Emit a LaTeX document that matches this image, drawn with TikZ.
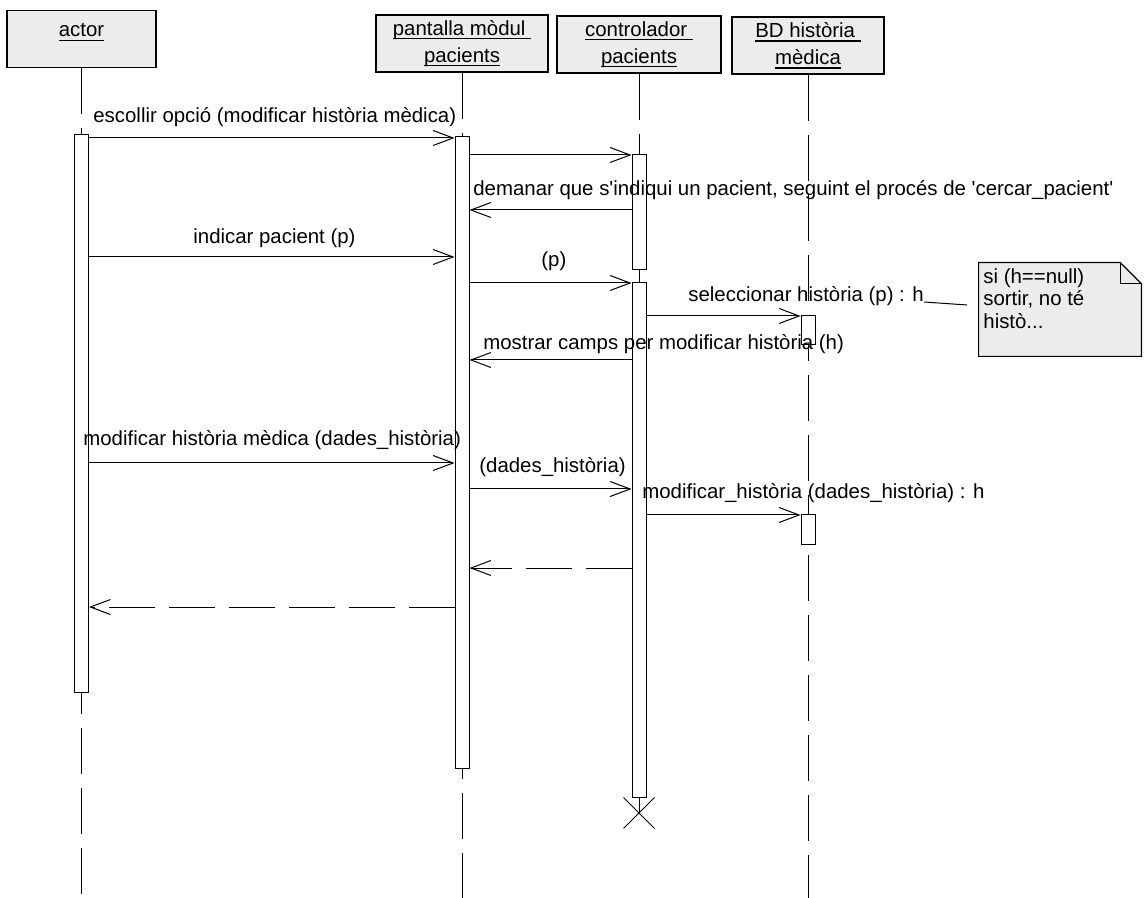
\documentclass[tikz,border=0pt]{standalone}
\usepackage{fontspec}
\setmainfont{Liberation Sans}
\usetikzlibrary{arrows.meta,shapes.misc}
\newsavebox\ulbox
\newcommand\ulx[1]{\sbox\ulbox{#1}\rlap{\rule[-2pt]{\wd\ulbox}{0.55pt}}\usebox\ulbox}
\begin{document}
\begin{tikzpicture}[x=0.5pt,y=-0.5pt,
  font=\fontsize{10.2}{13.5}\selectfont,
  obj/.style={draw, line width=0.8pt, fill=gray!15, minimum height=28.5pt, align=center, inner sep=0pt},
  act/.style={draw, fill=white, line width=0.5pt, minimum width=7pt, inner sep=0pt},
  life/.style={line width=0.5pt, dash pattern=on 23pt off 7pt},
  msg/.style={line width=0.5pt, -{Straight Barb[length=10pt,width=7.5pt]}},
  ret/.style={msg, dash pattern=on 23pt off 7pt},
  lbl/.style={anchor=base west, inner sep=0pt}]
\useasboundingbox (0,0) rectangle (1146,898);

% objects
\node[obj, minimum width=74.5pt] (bA) at (81.5,39) {\ulx{actor}\\[-7pt]\phantom{pacients}};
\node[obj, minimum width=86pt] (bP) at (462,43.5) {\ulx{pantalla mòdul }\\\ulx{pacients}};
\node[obj, minimum width=82pt] (bC) at (639,44.5) {\ulx{controlador }\\\ulx{pacients}};
\node[obj, minimum width=76pt] (bB) at (808,45.5) {\ulx{BD història }\\\ulx{mèdica}};

% lifeline ends
\coordinate (eA) at (81.5,898);
\coordinate (eP) at (462,898);
\coordinate (eB) at (808,898);
\node[draw, cross out, line width=0.5pt, minimum size=15pt, inner sep=0pt] (xC) at (639,813) {};

\draw[life] (bA.south) -- (eA);
\draw[life] (bP.south) -- (eP);
\draw[life] (bC.south) -- (xC.center);
\draw[life] (bB.south) -- (eB);

% activations
\node[act, minimum height=278.5pt] (aA) at (81.5,413.5) {};
\node[act, minimum height=315.5pt] (aP) at (462,452.5) {};
\node[act, minimum height=57.5pt] (aC1) at (639,212.5) {};
\node[act, minimum height=257pt] (aC2) at (639,540) {};
\node[act, minimum height=14.5pt] (aB1) at (808,330.5) {};
\node[act, minimum height=14.5pt] (aB2) at (808,529.5) {};

% messages
\draw[msg] (aA.east |- 0,138) -- (aP.west |- 0,138);
\node[lbl] (l1) at (93,123) {escollir opció (modificar història mèdica)};

\draw[msg] (aP.east |- 0,155) -- (aC1.west |- 0,155);

\draw[msg] (aC1.west |- 0,210) -- (aP.east |- 0,210);
\node[lbl] (l3) at (473,196) {demanar que s\textquotesingle indiqui un pacient, seguint el procés de \textquotesingle cercar\_pacient\textquotesingle};

\draw[msg] (aA.east |- 0,257) -- (aP.west |- 0,257);
\node[lbl] (l4) at (193,244) {indicar pacient (p)};

\draw[msg] (aP.east |- 0,283) -- (aC2.west |- 0,283);
\node[lbl] (l5) at (541,267) {(p)};

\draw[msg] (aC2.east |- 0,316) -- (aB1.west |- 0,316);
\node[lbl] (l6) at (688,302) {seleccionar història (p) : h};

\draw[msg] (aC2.west |- 0,360) -- (aP.east |- 0,360);
\node[lbl] (l7) at (483,350) {mostrar camps per modificar història (h)};

\draw[msg] (aA.east |- 0,463) -- (aP.west |- 0,463);
\node[lbl] (l8) at (83,446) {modificar història mèdica (dades\_història)};

\draw[msg] (aP.east |- 0,489) -- (aC2.west |- 0,489);
\node[lbl] (l9) at (479,473) {(dades\_història)};

\draw[msg] (aC2.east |- 0,515) -- (aB2.west |- 0,515);
\node[lbl] (l10) at (642,499) {modificar\_història (dades\_història) : h};

\draw[ret] (aC2.west |- 0,568) -- (aP.east |- 0,568);
\draw[ret] (aP.west |- 0,607) -- (aA.east |- 0,607);

% note
\node[minimum width=81pt, minimum height=46.5pt, inner sep=0pt] (note) at (1060,309.5) {};
\filldraw[fill=gray!15, line width=0.6pt]
  (note.north west) -- ([xshift=-10.5pt]note.north east) -- ([yshift=-10.5pt]note.north east)
  -- (note.south east) -- (note.south west) -- cycle;
\draw[line width=0.5pt] ([xshift=-10.5pt]note.north east) -- ([xshift=-10.5pt,yshift=-10.5pt]note.north east)
  -- ([yshift=-10.5pt]note.north east);
\node[anchor=north west, align=left, inner sep=0pt, font=\fontsize{10.2}{11.25}\selectfont] (noteTxt)
  at (983,268) {si (h==null)\\sortir, no té\\histò...};
\coordinate (nc) at (967,305);
\draw[line width=0.5pt] (l6.base east) -- (nc);
\end{tikzpicture}
\end{document}
